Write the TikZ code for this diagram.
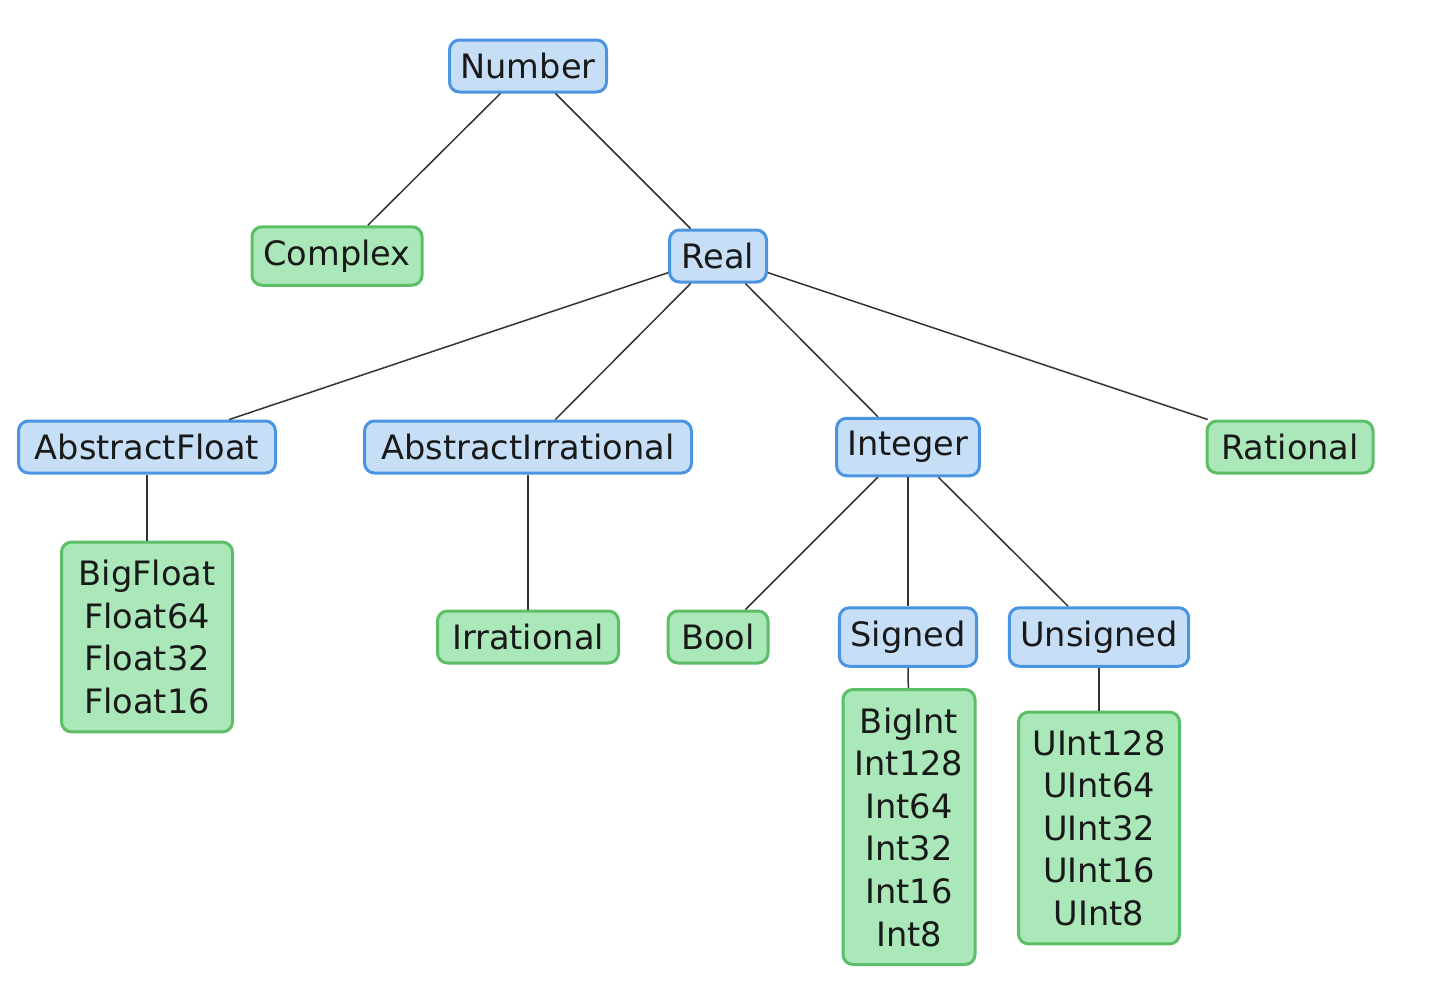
\documentclass[tikz,border=0pt]{standalone}
\usepackage{fontspec}
\setmainfont{DejaVu Sans}
\usepackage{tikz}
\usetikzlibrary{positioning}
\definecolor{absfill}{RGB}{198,223,246}
\definecolor{absdraw}{RGB}{74,148,226}
\definecolor{concfill}{RGB}{170,232,186}
\definecolor{concdraw}{RGB}{92,190,102}
\tikzset{absbox/.style={draw=absdraw,fill=absfill,line width=1.5pt,rounded corners=5pt,
 inner xsep=5.5pt,inner ysep=6.5pt,align=center,text=black!90,
 font=\fontsize{16.8}{21.3}\selectfont},concbox/.style={absbox,draw=concdraw,fill=concfill},
 link/.style={draw=black!80,line width=0.75pt}}

\begin{document}
\begin{tikzpicture}[x=0.5pt,y=-0.5pt]
\useasboundingbox (0,0) rectangle (1432,982);
\node[absbox,minimum width=78.5pt] (number) at (528,66) {Number};
\node[concbox,minimum width=85pt] (complex) at (337,256) {Complex};
\node[absbox,minimum width=48.5pt] (real) at (718,256) {Real};
\node[absbox,minimum width=128.5pt] (absfloat) at (147,447) {AbstractFloat};
\node[absbox,minimum width=163.5pt] (absirr) at (528,447) {AbstractIrrational};
\node[absbox] (integer) at (908,447) {Integer};
\node[concbox,minimum width=83pt] (rational) at (1290,447) {Rational};
\node[concbox,inner ysep=9pt,minimum width=85.5pt] (floats) at (147,637) {BigFloat\\Float64\\Float32\\Float16};
\node[concbox,minimum width=90.5pt] (irrational) at (528,637) {Irrational};
\node[concbox,minimum width=50pt] (bool) at (718,637) {Bool};
\node[absbox] (signed) at (908,637) {Signed};
\node[absbox] (unsigned) at (1099,637) {Unsigned};
\node[concbox,inner ysep=9pt,minimum width=66pt] (ints) at (909,827) {BigInt\\Int128\\Int64\\Int32\\Int16\\Int8};
\node[concbox,inner ysep=9pt,minimum width=80.5pt] (uints) at (1099,828) {UInt128\\UInt64\\UInt32\\UInt16\\UInt8};
\draw[link] (number)--(complex);
\draw[link] (number)--(real);
\draw[link] (real)--(absfloat);
\draw[link] (real)--(absirr);
\draw[link] (real)--(integer);
\draw[link] (real)--(rational);
\draw[link] (absfloat)--(floats);
\draw[link] (absirr)--(irrational);
\draw[link] (integer)--(bool);
\draw[link] (integer)--(signed);
\draw[link] (integer)--(unsigned);
\draw[link] (signed)--(ints);
\draw[link] (unsigned)--(uints);
\end{tikzpicture}
\end{document}
